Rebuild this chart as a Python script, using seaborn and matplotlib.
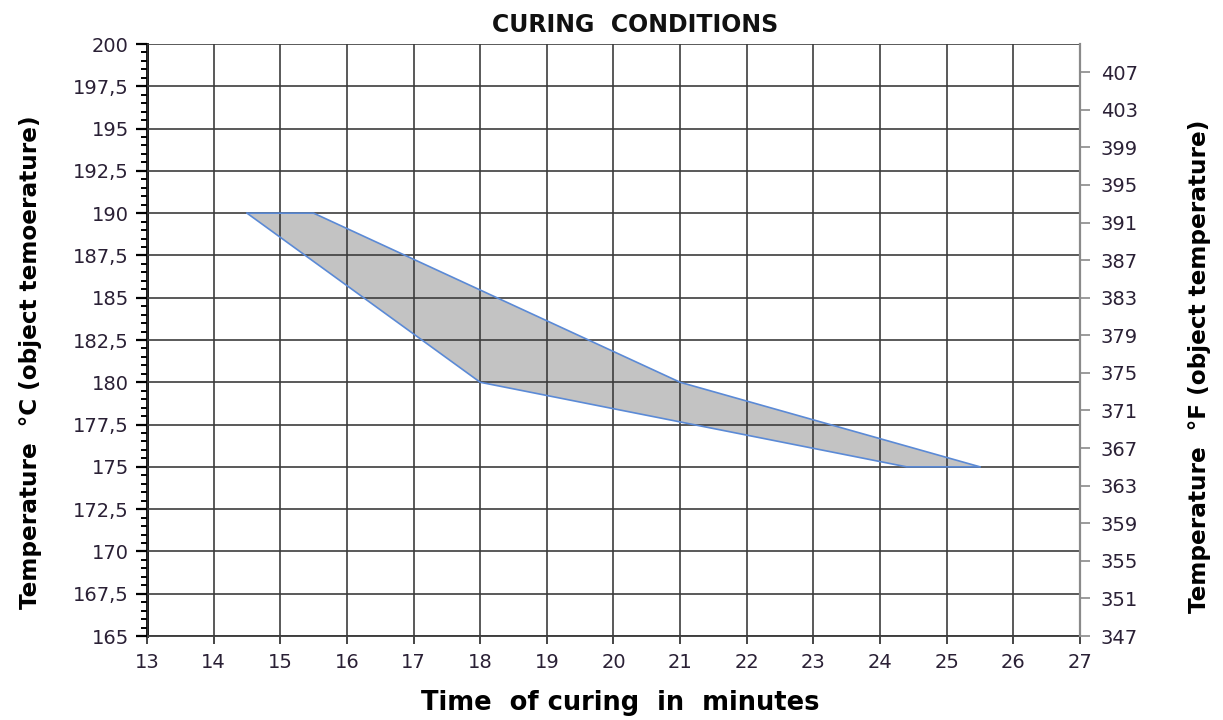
import matplotlib
matplotlib.use("Agg")
import matplotlib.pyplot as plt
import seaborn as sns
import numpy as np
import pandas as pd

# ---- data ----
time_upper = [14.5, 15.5, 21.0, 25.5]
temp_upper = [190.0, 190.0, 180.0, 175.0]
time_lower = [14.5, 18.0, 24.4, 25.5]
temp_lower = [190.0, 180.0, 175.0, 175.0]

x_ticks = list(range(13, 28))
c_ticks = [165, 167.5, 170, 172.5, 175, 177.5, 180, 182.5, 185, 187.5, 190, 192.5, 195, 197.5, 200]
f_ticks = list(range(347, 408, 4))

title = "CURING  CONDITIONS"
xlabel = "Time  of curing  in  minutes"
ylabel_c = "Temperature  °C (object temoerature)"
ylabel_f = "Temperature  °F (object temperature)"

sns.set_style("white")
plt.rcParams['font.family'] = ['DejaVu Sans']

fig = plt.figure(figsize=(12.23, 7.2), dpi=100)
ax = fig.add_axes([147/1223, 1-636/720, (1080-147)/1223, (636-44)/720])

# polygon: upper boundary forward, lower boundary backward
poly_x = time_upper + time_lower[::-1]
poly_y = temp_upper + temp_lower[::-1]
ax.fill(poly_x, poly_y, color="#c3c3c3", zorder=2, lw=0)
df_u = pd.DataFrame({"t": time_upper, "T": temp_upper})
df_l = pd.DataFrame({"t": time_lower, "T": temp_lower})
sns.lineplot(data=df_u, x="t", y="T", ax=ax, color="#5b8ad6", lw=1.2, sort=False, zorder=3)
sns.lineplot(data=df_l, x="t", y="T", ax=ax, color="#5b8ad6", lw=1.2, sort=False, zorder=3)

ax.set_xlim(13, 27)
ax.set_ylim(165, 200)
ax.set_xticks(x_ticks)
ax.set_xticklabels([str(v) for v in x_ticks])
ax.set_yticks(c_ticks)
ax.set_yticklabels([f"{v:g}".replace(".", ",") for v in c_ticks])
ax.set_yticks(np.arange(165, 200.01, 0.5), minor=True)

ax.grid(True, which="major", color="#3c3c3c", lw=1.4, alpha=0.85, zorder=1)
ax.set_axisbelow(False)
for ln in ax.get_xgridlines() + ax.get_ygridlines():
    ln.set_zorder(2.5)

ax.spines["top"].set_visible(False)
ax.spines["left"].set_color("black")
ax.spines["left"].set_linewidth(2)
ax.spines["bottom"].set_color("#444444")
ax.spines["bottom"].set_linewidth(1.4)
ax.spines["right"].set_visible(False)

lab_color = "#2a2035"
ax.tick_params(axis="y", which="major", left=True, length=8, width=1.6, color="black",
               labelsize=14, labelcolor=lab_color, pad=5)
ax.tick_params(axis="y", which="minor", left=True, length=4, width=1.4, color="black")
ax.tick_params(axis="x", which="major", bottom=True, length=6, width=1.4, color="#444444",
               labelsize=14, labelcolor=lab_color, pad=6)

ax.set_xlabel(xlabel, fontsize=18.5, fontweight="bold", color="black")
ax.xaxis.set_label_coords(0.507, -0.113)
ax.xaxis.label.set_va("center")
ax.set_ylabel(ylabel_c, fontsize=16.7, fontweight="bold", color="black")
ax.yaxis.set_label_coords(-0.1254, 0.463)
ax.yaxis.label.set_va("center")
ax.set_title(title, fontsize=17, fontweight="bold", pad=9, color="#111111", x=0.523)

ax2 = ax.twinx()
ax2.set_ylim(347, 410)
ax2.set_yticks(f_ticks)
ax2.set_yticklabels([str(v) for v in f_ticks])
ax2.grid(False)
for s in ["top", "left", "bottom"]:
    ax2.spines[s].set_visible(False)
ax2.spines["right"].set_color("#8a8a8a")
ax2.spines["right"].set_linewidth(1.6)
ax2.tick_params(axis="y", right=True, length=7, width=1.2, color="#8a8a8a",
                labelsize=14, labelcolor=lab_color, pad=8)
ax2.set_ylabel(ylabel_f, fontsize=16.7, fontweight="bold", color="black")
ax2.yaxis.set_label_coords(1.1286, 0.455)
ax2.yaxis.label.set_va("center")

fig.savefig("out.png", dpi=100)
